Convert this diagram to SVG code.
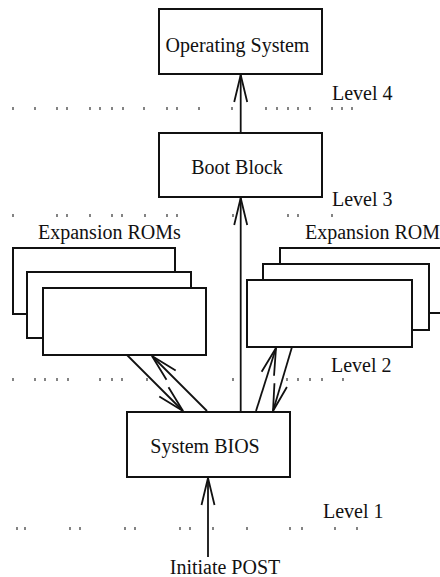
<svg xmlns="http://www.w3.org/2000/svg" width="440" height="577" viewBox="0 0 440 577">
<style>
.box{fill:#fff;stroke:#111;stroke-width:2}
.t{font-family:"Liberation Serif","Times New Roman",serif;font-size:20px;fill:#111}
.c{stroke:#111;stroke-width:1.8;fill:none}
.dots{stroke:#333;stroke-width:1.2;fill:none}
</style>
<defs>
<marker id="ah" markerUnits="userSpaceOnUse" markerWidth="40" markerHeight="20" viewBox="-30 -10 32 20" refX="0" refY="0" orient="auto">
<path d="M-27,-6.5 L0,0 L-27,6.5" fill="none" stroke="#111" stroke-width="1.8"/>
</marker>
</defs>
<rect width="440" height="577" fill="#fff"/>
<g id="levels">
<path class="dots" d="M13,107v3M35,107v3M57,107v3M67,107v3M90,107v3M100,107v3M112,107v3M123,107v3M144,107v3M167,107v3M177,107v3M199,107v3M232,107v3M266,107v3M277,107v3M288,107v3M298,107v3M310,107v3M332,107v3M342,107v3M352,107v3"/>
<path class="dots" d="M13,214v3M57,214v3M67,214v3M90,214v3M112,214v3M122,214v3M145,214v3M167,214v3M177,214v3M233,214v3M288,214v3M298,214v3M332,214v3"/>
<path class="dots" d="M13,378v3M35,378v3M45,378v3M57,378v3M68,378v3M100,378v3M112,378v3M122,378v3M147,378v3M233,378v3M287,378v3M298,378v3M310,378v3M322,378v3M343,378v3"/>
<path class="dots" d="M17,527v3M25,527v3M70,527v3M80,527v3M125,527v3M135,527v3M180,527v3M190,527v3M213,527v3M247,527v3M290,527v3M302,527v3M335,527v3M357,527v3"/>
<text class="t" x="332" y="100">Level 4</text>
<text class="t" x="332" y="206">Level 3</text>
<text class="t" x="331" y="372">Level 2</text>
<text class="t" x="323" y="518">Level 1</text>
</g>
<g id="os">
<rect class="box" x="159" y="9" width="163" height="65"/>
<text class="t" x="237.5" y="52" text-anchor="middle">Operating System</text>
</g>
<g id="bootblock">
<rect class="box" x="159" y="133" width="163" height="64"/>
<text class="t" x="237" y="174" text-anchor="middle">Boot Block</text>
</g>
<g id="roms-left">
<text class="t" x="38" y="239">Expansion ROMs</text>
<rect class="box" x="13" y="248" width="162" height="66"/>
<rect class="box" x="27" y="272" width="164" height="66"/>
<rect class="box" x="43" y="288" width="163" height="67"/>
</g>
<g id="roms-right">
<text class="t" x="305" y="239">Expansion ROMs</text>
<rect class="box" x="280" y="248" width="170" height="65"/>
<rect class="box" x="263" y="264" width="166" height="66"/>
<rect class="box" x="247" y="280" width="165" height="67"/>
</g>
<g id="bios">
<rect class="box" x="127" y="412" width="163" height="65"/>
<text class="t" x="205" y="453" text-anchor="middle">System BIOS</text>
</g>
<g id="post">
<text class="t" x="225" y="574" text-anchor="middle">Initiate POST</text>
</g>
<g id="connectors">
<line class="c" x1="240.7" y1="133" x2="240.7" y2="75" marker-end="url(#ah)"/>
<line class="c" x1="240.7" y1="412" x2="240.7" y2="198" marker-end="url(#ah)"/>
<line class="c" x1="208" y1="557" x2="208" y2="478" marker-end="url(#ah)"/>
<line class="c" x1="127" y1="355" x2="183" y2="411" marker-end="url(#ah)"/>
<line class="c" x1="207" y1="411" x2="152" y2="356" marker-end="url(#ah)"/>
<line class="c" x1="256" y1="411" x2="276" y2="348" marker-end="url(#ah)"/>
<line class="c" x1="292" y1="347" x2="273" y2="411" marker-end="url(#ah)"/>
</g>
</svg>
